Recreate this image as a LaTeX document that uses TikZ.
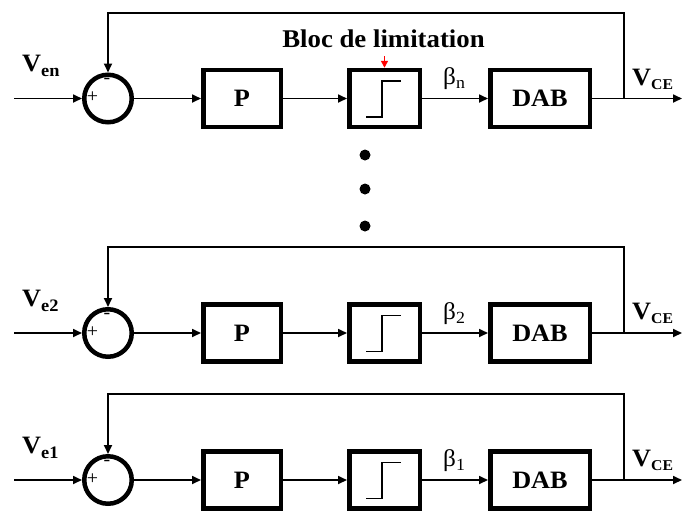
\documentclass[tikz,border=0pt]{standalone}
\usepackage{fontspec}
\setmainfont{Liberation Serif}[FakeStretch=1.05]
\usetikzlibrary{arrows.meta}
\begin{document}
\begin{tikzpicture}[x=1pt,y=-1pt,
  wire/.style={line width=1.7pt},
  arr/.style={wire,-{Triangle[length=9pt,width=8pt]}},
  blk/.style={draw,line width=4.5pt,minimum height=57pt,inner sep=0pt,font=\fontsize{25}{30}\selectfont\bfseries},
  sumc/.style={draw,circle,line width=4.5pt,minimum size=47.5pt,inner sep=0pt},
  lbl/.style={inner sep=0pt,anchor=base west},
  dotn/.style={circle,fill,inner sep=0pt,minimum size=11pt},
  sgn/.style={inner sep=0pt,font=\fontsize{19}{19}\selectfont}]
\useasboundingbox (0,0) rectangle (682,512);
\fill[white] (0,0) rectangle (682,512);
\foreach \yc/\yf/\k in {98.5/13/n,333/247/2,480/394/1}{
  \node[sumc] (s\k) at (108,\yc) {};
  \node[blk,minimum width=77.5pt] (p\k) at (242,\yc) {P};
  \node[blk,minimum width=70.5pt] (l\k) at (384.5,\yc) {};
  \node[blk,minimum width=99.5pt] (d\k) at (540,\yc) {DAB};
  \coordinate (in\k) at (14,\yc);
  \coordinate (out\k) at (682,\yc);
  \coordinate (br\k) at (624,\yc);
  \coordinate (tr\k) at (624,\yf);
  \coordinate (tl\k) at (108,\yf);
  \draw[arr] (in\k) -- (s\k);
  \draw[arr] (s\k) -- (p\k);
  \draw[arr] (p\k) -- (l\k);
  \draw[arr] (l\k) -- (d\k);
  \draw[arr] (d\k) -- (out\k);
  \draw[arr] (br\k) -- (tr\k) -- (tl\k) -- (s\k.north);
  \draw[wire] ([shift={(-18.5,18.5)}]l\k.center) -- ++(16,0) -- ++(0,-36) -- ++(19,0);
  \node[sgn] (pl\k) at (92.5,\yc-1) {+};
  \node[sgn] (mi\k) at (107,\yc-17.5) {-};
  \node[lbl] (v\k) at (22,\yc-27) {\fontsize{25}{30}\selectfont\bfseries V\raisebox{-5pt}{\fontsize{17.5}{17.5}\selectfont e\k}};
  \node[lbl] (vce\k) at (632,\yc-13.5) {\fontsize{25}{30}\selectfont\bfseries V\raisebox{-4pt}{\fontsize{15}{15}\selectfont CE}};
  \node[lbl] (b\k) at (443,\yc-14) {\fontsize{24}{28}\selectfont β\raisebox{-4pt}{\fontsize{17}{17}\selectfont \k}};
}
\node[anchor=base,inner sep=0pt,font=\fontsize{25.5}{30}\selectfont\bfseries] (bloc) at (383.5,47) {Bloc de limitation};
\coordinate (rt) at (384.5,56);
\draw[red,line width=1.5pt,-{Triangle[length=7pt,width=7pt]}] (rt) -- (ln.north);
\node[dotn] (dot1) at (365,155) {};
\node[dotn] (dot2) at (365,189) {};
\node[dotn] (dot3) at (365,226) {};
\end{tikzpicture}
\end{document}
